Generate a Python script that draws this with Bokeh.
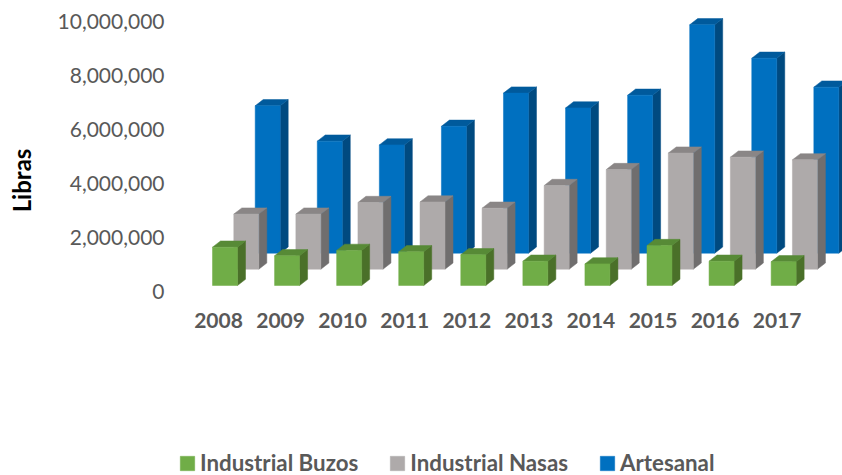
from bokeh.plotting import figure
from bokeh.models import Label, Legend, LegendItem, FixedTicker, NumeralTickFormatter, Range1d, LinearAxis
from bokeh.embed import file_html
from bokeh.resources import INLINE
import math

years = [2008, 2009, 2010, 2011, 2012, 2013, 2014, 2015, 2016, 2017]
industrial_buzos = [1420000, 1100000, 1300000, 1250000, 1140000, 900000, 800000, 1480000, 900000, 880000]
industrial_nasas = [2040000, 2040000, 2470000, 2490000, 2260000, 3100000, 3690000, 4300000, 4150000, 4050000]
artesanal = [5460000, 4150000, 4010000, 4700000, 5930000, 5380000, 5850000, 8460000, 7220000, 6150000]
y_ticks = [0, 2000000, 4000000, 6000000, 8000000, 10000000]

FONT = "Lato"
TEXT = "#595959"

# pixel geometry of the 3D projection
W, H = 842, 475
PX_PER_YEAR = 62.07
PX_PER_UNIT = 27 / 1e6
BAR_W = 25 / PX_PER_YEAR
DX = 8 / PX_PER_YEAR
DY = 6.2 / PX_PER_UNIT

series = [
    # name, values, x offset (years), base lift (units), front, top, side
    ("Artesanal", artesanal, 36.7 / PX_PER_YEAR, 38.0 / PX_PER_UNIT, "#0070C0", "#005A9C", "#004A80"),
    ("Industrial Nasas", industrial_nasas, 15.3 / PX_PER_YEAR, 22.0 / PX_PER_UNIT, "#AEAAAA", "#8A8686", "#706E6E"),
    ("Industrial Buzos", industrial_buzos, -6.0 / PX_PER_YEAR, 5.7 / PX_PER_UNIT, "#70AD47", "#578A36", "#4A7029"),
]

p = figure(
    width=W, height=H, output_backend="svg", toolbar_location=None,
    x_axis_location=None, y_axis_location=None,
    min_border_left=0, min_border_right=0, min_border_top=0, min_border_bottom=0,
    x_range=Range1d(2008 - 218 / PX_PER_YEAR, 2008 + (W - 218) / PX_PER_YEAR),
    y_range=Range1d((290.7 - H) / PX_PER_UNIT, 290.7 / PX_PER_UNIT),
)
p.outline_line_color = None
p.xgrid.visible = False
p.ygrid.visible = False
p.background_fill_color = "white"

fronts = {}
for name, vals, xo, lift, c_front, c_top, c_side in series:
    left = [y + xo for y in years]
    right = [l + BAR_W for l in left]
    tops = [lift + v for v in vals]
    side_x = [[r, r + DX, r + DX, r] for r in right]
    side_y = [[lift, lift + DY, t + DY, t] for t in tops]
    top_x = [[l, r, r + DX, l + DX] for l, r in zip(left, right)]
    top_y = [[t, t, t + DY, t + DY] for t in tops]
    p.patches(side_x, side_y, fill_color=c_side, line_color=c_side, line_width=0.5)
    p.patches(top_x, top_y, fill_color=c_top, line_color=c_top, line_width=0.5)
    fronts[name] = p.quad(left=left, right=right, bottom=lift, top=tops,
                          fill_color=c_front, line_color=c_front, line_width=0.5)

ya = LinearAxis(fixed_location=2008 + (170 - 218) / PX_PER_YEAR)
ya.ticker = FixedTicker(ticks=y_ticks)
ya.formatter = NumeralTickFormatter(format="0,0")
ya.axis_line_color = None
ya.major_tick_line_color = None
ya.minor_tick_line_color = None
ya.major_label_standoff = 0
ya.major_label_text_font = FONT
ya.major_label_text_font_size = "21px"
ya.major_label_text_color = TEXT
p.add_layout(ya, "left")

xa = LinearAxis(fixed_location=(290.7 - 305) / PX_PER_UNIT)
xa.ticker = FixedTicker(ticks=years)
xa.formatter = NumeralTickFormatter(format="0")
xa.axis_line_color = None
xa.major_tick_line_color = None
xa.minor_tick_line_color = None
xa.major_label_standoff = 1
xa.major_label_text_font = FONT
xa.major_label_text_font_style = "bold"
xa.major_label_text_font_size = "21px"
xa.major_label_text_color = TEXT
p.add_layout(xa, "below")

p.add_layout(Label(x=21, y=H - 180, x_units="screen", y_units="screen", text="Libras",
                   angle=math.pi / 2, text_font=FONT, text_font_style="bold",
                   text_font_size="24px", text_color="black",
                   text_align="center", text_baseline="middle"))

legend = Legend(
    items=[LegendItem(label=n, renderers=[fronts[n]]) for n in ["Industrial Buzos", "Industrial Nasas", "Artesanal"]],
    orientation="horizontal", location=(178, -1), border_line_color=None,
    background_fill_alpha=0, padding=0, margin=0, spacing=30,
    glyph_width=18, glyph_height=18, label_standoff=4,
    label_text_font=FONT, label_text_font_style="bold",
    label_text_font_size="22.3px", label_text_color=TEXT,
)
p.add_layout(legend)

open("out.html", "w").write(file_html(p, INLINE))
